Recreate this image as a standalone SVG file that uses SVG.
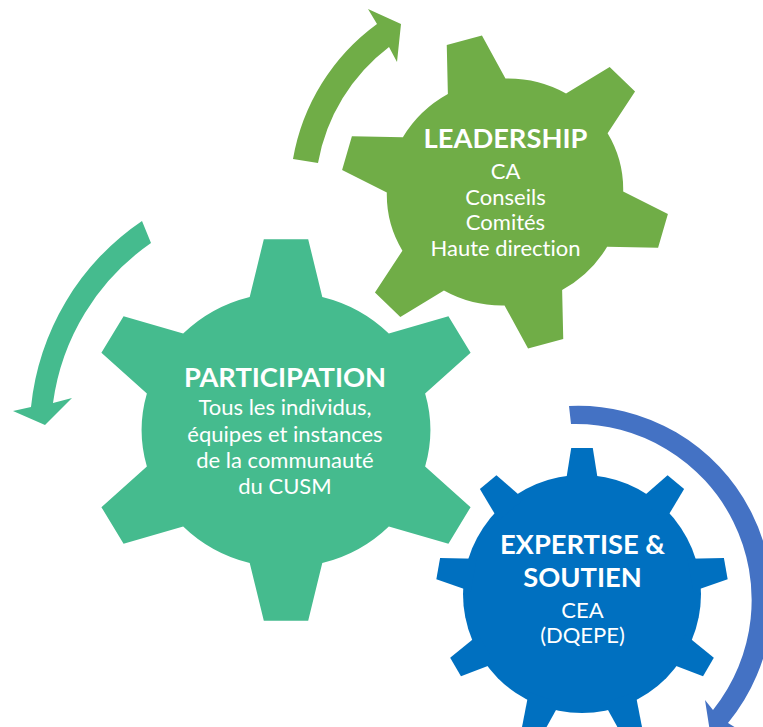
<svg xmlns="http://www.w3.org/2000/svg" xmlns:xlink="http://www.w3.org/1999/xlink" width="763" height="727" viewBox="0 0 763 727">
  <style>
    .title { font-family: Lato, "Liberation Sans", sans-serif; font-weight: bold; font-size: 27.3px; fill: #ffffff; text-anchor: middle; font-variant-ligatures: none; }
    .body { font-family: Lato, "Liberation Sans", sans-serif; font-size: 22px; fill: #ffffff; text-anchor: middle; font-variant-ligatures: none; }
  </style>
  <defs>
    <path id="g6" d="M -18,-69.3 L -11,-99.39 L 11,-99.39 L 18,-69.3 A 71.6 71.6 0 0 1 51.01,-50.24 L 80.57,-59.22 L 91.57,-40.17 L 69.01,-19.06 A 71.6 71.6 0 0 1 69.01,19.06 L 91.57,40.17 L 80.57,59.22 L 51.01,50.24 A 71.6 71.6 0 0 1 18,69.3 L 11,99.39 L -11,99.39 L -18,69.3 A 71.6 71.6 0 0 1 -51.01,50.24 L -80.57,59.22 L -91.57,40.17 L -69.01,19.06 A 71.6 71.6 0 0 1 -69.01,-19.06 L -91.57,-40.17 L -80.57,-59.22 L -51.01,-50.24 A 71.6 71.6 0 0 1 -18,-69.3 Z"/>
    <polygon id="t9" points="-16.5,-110 -10.8,-146 10.8,-146 16.5,-110"/>
  </defs>

  <g id="participation">
    <use xlink:href="#g6" href="#g6" transform="translate(286,430) scale(2.016,1.92)" fill="#45BB8E"/>
    <text class="title" x="285" y="386.5">PARTICIPATION</text>
    <text class="body" x="285" y="415">Tous les individus,</text>
    <text class="body" x="285" y="441.5">équipes et instances</text>
    <text class="body" x="285" y="468">de la communauté</text>
    <text class="body" x="285" y="494">du CUSM</text>
  </g>

  <g id="leadership">
    <use xlink:href="#g6" href="#g6" transform="translate(505,192) rotate(-15) scale(1.656,1.58)" fill="#70AD47"/>
    <text class="title" x="505.5" y="148">LEADERSHIP</text>
    <text class="body" x="505.5" y="179">CA</text>
    <text class="body" x="505.5" y="204.5">Conseils</text>
    <text class="body" x="505.5" y="230">Comités</text>
    <text class="body" x="505.5" y="255.5">Haute direction</text>
  </g>

  <g id="expertise">
    <g transform="translate(582,594)" fill="#0070C0">
      <circle cx="0" cy="0" r="119"/>
      <use xlink:href="#t9" href="#t9"/>
      <use xlink:href="#t9" href="#t9" transform="rotate(40)"/>
      <use xlink:href="#t9" href="#t9" transform="rotate(80)"/>
      <use xlink:href="#t9" href="#t9" transform="rotate(120)"/>
      <use xlink:href="#t9" href="#t9" transform="rotate(160)"/>
      <use xlink:href="#t9" href="#t9" transform="rotate(200)"/>
      <use xlink:href="#t9" href="#t9" transform="rotate(240)"/>
      <use xlink:href="#t9" href="#t9" transform="rotate(280)"/>
      <use xlink:href="#t9" href="#t9" transform="rotate(320)"/>
    </g>
    <text class="title" x="582.5" y="553.5">EXPERTISE &amp;</text>
    <text class="title" x="582.5" y="587">SOUTIEN</text>
    <text class="body" x="582.5" y="617.5">CEA</text>
    <text class="body" x="582.5" y="642.5">(DQEPE)</text>
  </g>

  <g id="connectors">
    <path id="arrow-leadership" fill="#70AD47" d="M 293,159 A 212 212 0 0 1 377,24 L 368,9 L 401,24 L 397,62 L 389,47 A 187 187 0 0 0 318,163 Z"/>
    <path id="arrow-participation" fill="#45BB8E" d="M 142,221 A 255 255 0 0 0 31,407 L 13,411 L 45,425 L 72,398 L 53,403 A 232 232 0 0 1 151,243 Z"/>
    <path id="arrow-expertise" fill="#4472C4" d="M 569,406 A 194 194 0 0 1 728,723 L 741,731 L 710,732 L 705,700 L 713,710 A 176 176 0 0 0 571,424 Z"/>
  </g>
</svg>
